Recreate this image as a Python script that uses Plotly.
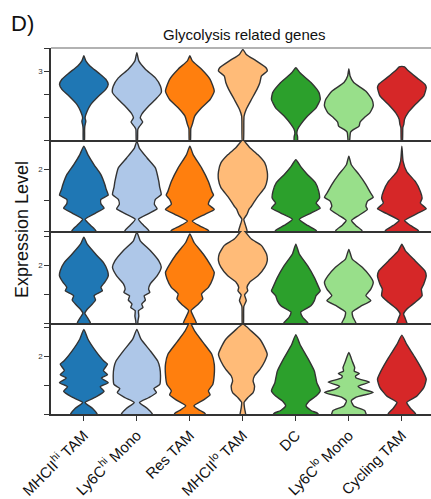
import plotly.graph_objects as go

categories = ["MHCII<sup>hi</sup> TAM", "Ly6C<sup>hi</sup> Mono", "Res TAM", "MHCII<sup>lo</sup> TAM",
              "DC", "Ly6C<sup>lo</sup> Mono", "Cycling TAM"]
colors = ["#1f77b4", "#aec7e8", "#ff7f0e", "#ffbb78", "#2ca02c", "#98df8a", "#d62728"]

# ---- gene row 1: expression levels and relative density (scale = width) ----
row1_levels = [
    [3.33, 3.22, 3.11, 2.96, 2.82, 2.71, 2.60, 2.46, 2.27, 2.13, 1.98, 1.91, 1.80, 1.73, 1.45],
    [3.40, 3.22, 3.04, 2.85, 2.67, 2.53, 2.38, 2.20, 2.06, 1.98, 1.89, 1.79, 1.73, 1.45],
    [3.33, 3.22, 3.04, 2.82, 2.56, 2.38, 2.20, 2.02, 1.84, 1.75, 1.45],
    [3.47, 3.36, 3.22, 3.07, 3.00, 2.89, 2.75, 2.60, 2.38, 2.17, 2.02, 1.91, 1.45],
    [3.07, 2.96, 2.75, 2.53, 2.38, 2.20, 2.02, 1.84, 1.73, 1.64, 1.57, 1.45],
    [3.05, 2.89, 2.75, 2.56, 2.38, 2.24, 2.09, 1.98, 1.89, 1.80, 1.73, 1.67, 1.45],
    [3.10, 3.09, 3.04, 2.85, 2.71, 2.64, 2.46, 2.27, 2.09, 1.95, 1.84, 1.77, 1.45],
]
row1_density = [
    [0, 0.08, 0.25, 0.6, 0.9, 1.0, 0.9, 0.62, 0.28, 0.14, 0.05, 0.08, 0.04, 0.03, 0.02],
    [0, 0.08, 0.35, 0.76, 0.97, 1.0, 0.76, 0.42, 0.2, 0.14, 0.24, 0.1, 0.04, 0.02],
    [0, 0.1, 0.48, 0.83, 1.0, 0.83, 0.48, 0.2, 0.1, 0.04, 0.02],
    [0, 0.14, 0.55, 0.95, 1.0, 0.76, 0.7, 0.58, 0.35, 0.14, 0.05, 0.04, 0.02],
    [0, 0.17, 0.62, 0.95, 1.0, 0.83, 0.48, 0.2, 0.07, 0.04, 0.07, 0.05],
    [0, 0.05, 0.2, 0.7, 0.95, 1.0, 0.86, 0.62, 0.46, 0.42, 0.2, 0.07, 0.02],
    [0, 0.11, 0.2, 0.62, 0.95, 1.0, 0.9, 0.55, 0.25, 0.11, 0.08, 0.04, 0.02],
]

# ---- gene row 2 ----
row2_levels = [
    [2.37, 2.23, 2.07, 1.91, 1.75, 1.67, 1.58, 1.51, 1.44, 1.37, 1.29, 1.19, 1.09, 1.01, 0.95],
    [2.45, 2.34, 2.18, 2.02, 1.80, 1.70, 1.59, 1.51, 1.43, 1.36, 1.28, 1.19, 1.09, 1.01, 0.95],
    [2.37, 2.23, 2.02, 1.80, 1.64, 1.58, 1.51, 1.43, 1.35, 1.27, 1.16, 1.08, 1.01, 0.95],
    [2.47, 2.34, 2.23, 2.10, 1.96, 1.83, 1.70, 1.56, 1.48, 1.40, 1.35, 1.27, 1.19, 1.09, 1.01, 0.95],
    [2.15, 2.04, 1.91, 1.78, 1.64, 1.53, 1.45, 1.37, 1.29, 1.19, 1.09, 1.01, 0.95],
    [2.21, 2.07, 1.91, 1.75, 1.61, 1.545, 1.48, 1.40, 1.35, 1.255, 1.17, 1.09, 1.01, 0.95],
    [2.37, 2.13, 1.96, 1.80, 1.64, 1.53, 1.45, 1.36, 1.28, 1.17, 1.09, 1.01, 0.95],
]
row2_density = [
    [0, 0.17, 0.42, 0.7, 0.86, 0.92, 1.0, 0.7, 0.7, 0.83, 0.48, 0.05, 0.28, 0.48, 0.52],
    [0, 0.1, 0.42, 0.76, 0.9, 0.94, 1.0, 0.76, 0.72, 0.83, 0.48, 0.07, 0.28, 0.48, 0.52],
    [0, 0.14, 0.48, 0.76, 0.9, 0.97, 0.83, 0.76, 1.0, 0.62, 0.1, 0.42, 0.76, 0.8],
    [0, 0.3, 0.62, 0.9, 1.0, 1.0, 0.9, 0.62, 0.48, 0.35, 0.25, 0.17, 0.04, 0.11, 0.17, 0.18],
    [0, 0.2, 0.48, 0.8, 0.94, 0.97, 0.83, 1.0, 0.62, 0.14, 0.48, 0.83, 0.88],
    [0, 0.1, 0.42, 0.7, 0.9, 1.0, 0.76, 0.7, 0.76, 0.42, 0.11, 0.28, 0.53, 0.56],
    [0, 0.05, 0.2, 0.55, 0.76, 0.83, 0.76, 1.0, 0.62, 0.11, 0.35, 0.67, 0.7],
]

# ---- gene row 3 ----
row3_levels = [
    [2.49, 2.37, 2.20, 2.055, 1.91, 1.82, 1.71, 1.62, 1.56, 1.475, 1.40, 1.33, 1.24, 1.17, 1.10, 1.02, 0.95],
    [2.58, 2.43, 2.26, 2.08, 1.97, 1.82, 1.68, 1.59, 1.53, 1.475, 1.40, 1.33, 1.27, 1.215, 1.12, 1.02, 0.95],
    [2.55, 2.40, 2.20, 1.997, 1.88, 1.77, 1.62, 1.505, 1.42, 1.33, 1.215, 1.12, 1.02, 0.95],
    [2.62, 2.46, 2.35, 2.20, 2.08, 1.97, 1.82, 1.71, 1.62, 1.56, 1.49, 1.39, 1.29, 0.95],
    [2.37, 2.20, 1.997, 1.79, 1.62, 1.56, 1.475, 1.39, 1.30, 1.19, 1.10, 1.01, 0.95],
    [2.28, 2.11, 1.97, 1.82, 1.71, 1.59, 1.475, 1.39, 1.29, 1.19, 1.10, 1.01, 0.95],
    [2.37, 2.26, 2.08, 1.91, 1.82, 1.68, 1.59, 1.475, 1.36, 1.24, 1.16, 1.08, 1.01, 0.95],
]
row3_density = [
    [0, 0.14, 0.48, 0.8, 0.97, 1.0, 0.86, 0.7, 0.76, 0.42, 0.48, 0.35, 0.14, 0.04, 0.14, 0.25, 0.28],
    [0, 0.14, 0.55, 0.9, 1.0, 0.83, 0.55, 0.48, 0.53, 0.3, 0.35, 0.2, 0.25, 0.07, 0.08, 0.04, 0.04],
    [0, 0.17, 0.55, 0.86, 1.0, 0.94, 0.76, 0.48, 0.53, 0.35, 0.05, 0.14, 0.25, 0.28],
    [0, 0.35, 0.76, 0.97, 1.0, 0.9, 0.62, 0.28, 0.17, 0.2, 0.07, 0.14, 0.04, 0.02],
    [0, 0.14, 0.48, 0.76, 0.94, 1.0, 0.83, 0.76, 0.62, 0.2, 0.28, 0.48, 0.5],
    [0, 0.14, 0.55, 0.86, 1.0, 0.9, 0.7, 0.9, 0.48, 0.14, 0.17, 0.28, 0.3],
    [0, 0.14, 0.55, 0.94, 1.0, 0.9, 0.8, 0.83, 0.55, 0.2, 0.07, 0.14, 0.2, 0.22],
]

# ---- gene row 4 ----
row4_levels = [
    [2.46, 2.29, 2.09, 1.91, 1.86, 1.75, 1.68, 1.62, 1.54, 1.47, 1.39, 1.29, 1.20, 1.10, 1.01, 0.95],
    [2.46, 2.29, 2.09, 1.91, 1.80, 1.66, 1.51, 1.44, 1.37, 1.28, 1.20, 1.10, 1.01, 0.95],
    [2.58, 2.43, 2.23, 2.03, 1.86, 1.68, 1.51, 1.40, 1.33, 1.24, 1.14, 1.06, 1.01, 0.95],
    [2.55, 2.43, 2.29, 2.14, 2.03, 1.91, 1.77, 1.66, 1.57, 1.48, 1.37, 1.28, 1.20, 1.10, 1.01, 0.95],
    [2.37, 2.20, 1.97, 1.74, 1.54, 1.40, 1.31, 1.225, 1.14, 1.06, 1.01, 0.95],
    [2.06, 1.91, 1.80, 1.74, 1.70, 1.66, 1.62, 1.55, 1.48, 1.43, 1.37, 1.29, 1.225, 1.14, 1.06, 1.01, 0.95],
    [2.36, 2.20, 1.97, 1.74, 1.60, 1.455, 1.31, 1.20, 1.10, 1.01, 0.95],
]
row4_density = [
    [0, 0.17, 0.48, 0.83, 0.97, 0.8, 0.97, 0.72, 1.0, 0.67, 0.83, 0.48, 0.05, 0.35, 0.53, 0.56],
    [0, 0.17, 0.55, 0.86, 0.94, 0.97, 0.94, 0.7, 0.8, 0.48, 0.11, 0.42, 0.62, 0.65],
    [0, 0.2, 0.55, 0.9, 1.0, 1.0, 0.94, 0.76, 0.83, 0.55, 0.17, 0.42, 0.62, 0.65],
    [0, 0.35, 0.7, 0.9, 1.0, 0.9, 0.7, 0.48, 0.42, 0.48, 0.42, 0.2, 0.05, 0.07, 0.11, 0.12],
    [0, 0.17, 0.48, 0.76, 0.86, 1.0, 0.83, 0.55, 0.42, 0.62, 0.9, 0.95],
    [0, 0.14, 0.24, 0.22, 0.43, 0.28, 0.3, 0.85, 0.38, 0.55, 1.0, 0.3, 0.1, 0.2, 0.65, 0.7, 0.72],
    [0, 0.2, 0.55, 0.86, 1.0, 0.9, 0.62, 0.2, 0.35, 0.55, 0.58],
]

row_levels = [row1_levels, row2_levels, row3_levels, row4_levels]
row_density = [row1_density, row2_density, row3_density, row4_density]
row_ranges = [[1.5, 3.5], [1.0, 2.47], [1.0, 2.6], [1.0, 2.57]]
row_tickvals = [[1.5, 2, 2.5, 3, 3.5], [1, 1.5, 2], [1, 1.5, 2, 2.5], [1, 1.5, 2, 2.5]]
row_ticktext = [["", "", "", "3", ""], ["", "", "2"], ["", "", "2", ""], ["", "", "2", ""]]

HALF = 0.46  # max half width in category units
W, H = 431, 499
x0 = 51 / W
row_px = [(48, 140), (140, 231), (231, 323), (323, 414)]

fig = go.Figure()
for r in range(4):
    sfx = "" if r == 0 else str(r + 1)
    for i, cat in enumerate(categories):
        lv = row_levels[r][i]
        dn = row_density[r][i]
        xs = [i + d * HALF for d in dn] + [i - d * HALF for d in reversed(dn)]
        ys = list(lv) + list(reversed(lv))
        fig.add_trace(go.Scatter(
            x=xs, y=ys, mode="lines", fill="toself", fillcolor=colors[i],
            line=dict(color="#333333", width=1.4, shape="spline", smoothing=0.5),
            xaxis="x" + sfx, yaxis="y" + sfx, showlegend=False, hoverinfo="skip"))

    top, bot = row_px[r]
    ydom = [1 - bot / H, 1 - top / H]
    last = r == 3
    fig.layout["xaxis" + sfx] = dict(
        domain=[x0, 1], anchor="y" + sfx, range=[-0.62, 6.55], automargin=False,
        tickvals=list(range(len(categories))), ticktext=categories,
        showticklabels=last, ticks="outside" if last else "", ticklen=5, tickcolor="#333",
        tickangle=-45, tickfont=dict(size=15, color="#111", family="Liberation Sans, Arial"),
        showline=True, linecolor="#333", linewidth=1.5, showgrid=False, zeroline=False)
    fig.layout["yaxis" + sfx] = dict(
        domain=ydom, anchor="x" + sfx, range=row_ranges[r], automargin=False,
        tickvals=row_tickvals[r], ticktext=row_ticktext[r],
        ticks="outside", ticklen=5, tickwidth=1, tickcolor="#333",
        tickfont=dict(size=8, color="#333", family="Liberation Sans, Arial"),
        showline=True, linecolor="#333", linewidth=1.5, showgrid=False, zeroline=False)

fig.add_shape(type="line", xref="paper", yref="paper", x0=x0, x1=1,
              y0=1 - 48 / H, y1=1 - 48 / H, line=dict(color="#999", width=1.5))

fig.add_annotation(text="D)", xref="paper", yref="paper", x=9 / W, y=1 - 23 / H,
                   xanchor="left", yanchor="middle", showarrow=False,
                   font=dict(size=22, color="#111", family="Liberation Sans, Arial"))
fig.add_annotation(text="Glycolysis related genes", xref="paper", yref="paper",
                   x=244 / W, y=1 - 35 / H, xanchor="center", yanchor="middle", showarrow=False,
                   font=dict(size=15, color="#111", family="Liberation Sans, Arial"))
fig.add_annotation(text="Expression Level", xref="paper", yref="paper",
                   x=22 / W, y=1 - 230 / H, xanchor="center", yanchor="middle", showarrow=False,
                   textangle=-90,
                   font=dict(size=18, color="#111", family="Liberation Sans, Arial"))

fig.update_layout(width=W, height=H, margin=dict(l=0, r=0, t=0, b=0),
                  paper_bgcolor="white", plot_bgcolor="white")

fig.write_html("out.html", config={"displayModeBar": False},
               post_script="document.body.style.margin='0';document.body.style.overflow='hidden';")
